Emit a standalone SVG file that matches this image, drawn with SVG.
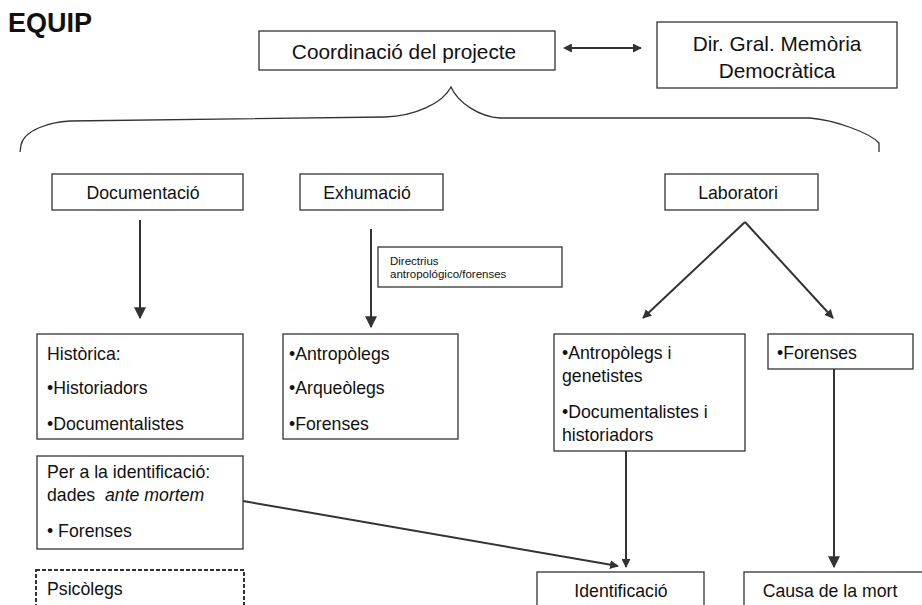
<svg xmlns="http://www.w3.org/2000/svg" width="922" height="605" viewBox="0 0 922 605">
<style>
text{font-family:"Liberation Sans",Arial,sans-serif;fill:#111;}
.box{fill:#fff;stroke:#333;stroke-width:1.3;}
.t20{font-size:20.8px;}
.t18{font-size:17.7px;}
.t11{font-size:11.5px;}
.c{text-anchor:middle;}
.ln{stroke:#333;stroke-width:2;fill:none;}
</style>
<defs>
<marker id="ah" viewBox="0 0 10 10" refX="9" refY="5" markerWidth="6" markerHeight="6" orient="auto" markerUnits="strokeWidth">
<path d="M0,0 L10,5 L0,10 z" fill="#333"/>
</marker>
<marker id="ah3" viewBox="0 0 10 10" refX="9" refY="5" markerWidth="4.5" markerHeight="4.5" orient="auto" markerUnits="strokeWidth">
<path d="M0,0 L10,5 L0,10 z" fill="#333"/>
</marker>
<marker id="ahs" viewBox="0 0 10 10" refX="1" refY="5" markerWidth="4.5" markerHeight="4.5" orient="auto-start-reverse" markerUnits="strokeWidth">
<path d="M0,0 L10,5 L0,10 z" fill="#333"/>
</marker>
</defs>
<rect width="922" height="605" fill="#fff"/>
<text id="title" x="8" y="32" style="font-size:27px;font-weight:bold;">EQUIP</text>

<g id="connectors">
<path d="M20,152 L21,145 C24,130 50,122 70,121 L385,117 C415,116 443,103 451,87 C458,103 480,117 500,118 L810,118 C835,120 870,133 879,143 L879,152" stroke="#333" stroke-width="1.3" fill="none"/>
<line x1="571" y1="48" x2="641" y2="48" class="ln" stroke-width="3" marker-start="url(#ahs)" marker-end="url(#ah3)"/>
<line x1="140" y1="220" x2="140" y2="318" class="ln" marker-end="url(#ah)"/>
<line x1="371" y1="229" x2="371" y2="327" class="ln" marker-end="url(#ah)"/>
<line x1="745" y1="222" x2="643" y2="318" class="ln" stroke-width="2.5" marker-end="url(#ah3)"/>
<line x1="745" y1="222" x2="833" y2="318" class="ln" stroke-width="2.5" marker-end="url(#ah3)"/>
<line x1="626" y1="451" x2="626" y2="567" class="ln" stroke-width="2.5" marker-end="url(#ah3)"/>
<line x1="834" y1="369" x2="834" y2="567" class="ln" marker-end="url(#ah)"/>
<line x1="243" y1="501" x2="618" y2="566" class="ln" stroke-width="3" marker-end="url(#ah3)"/>
</g>

<g id="coordinacio">
<rect class="box" x="259" y="31" width="296" height="39"/>
<text class="t20 c" x="404" y="59">Coordinació del projecte</text>
</g>
<g id="dirgral">
<rect class="box" x="657" y="22" width="240" height="66"/>
<text class="t20 c" x="777" y="51">Dir. Gral. Memòria</text>
<text class="t20 c" x="777" y="78">Democràtica</text>
</g>
<g id="documentacio">
<rect class="box" x="52" y="174" width="191" height="36"/>
<text class="t18 c" x="143" y="199">Documentació</text>
</g>
<g id="exhumacio">
<rect class="box" x="300" y="174" width="143" height="36"/>
<text class="t18 c" x="367" y="199">Exhumació</text>
</g>
<g id="laboratori">
<rect class="box" x="665" y="174" width="153" height="36"/>
<text class="t18 c" x="738" y="199">Laboratori</text>
</g>
<g id="directrius">
<rect class="box" x="378" y="247" width="184" height="40"/>
<text class="t11" x="390" y="265">Directrius</text>
<text class="t11" x="390" y="278">antropológico/forenses</text>
</g>
<g id="historica">
<rect class="box" x="37" y="334" width="206" height="105"/>
<text class="t18" x="47" y="360">Històrica:</text>
<text class="t18" x="47" y="394">•Historiadors</text>
<text class="t18" x="47" y="430">•Documentalistes</text>
</g>
<g id="exhumacio-equip">
<rect class="box" x="283" y="334" width="175" height="105"/>
<text class="t18" x="289" y="360">•Antropòlegs</text>
<text class="t18" x="289" y="394">•Arqueòlegs</text>
<text class="t18" x="289" y="430">•Forenses</text>
</g>
<g id="lab-equip">
<rect class="box" x="554" y="334" width="191" height="117"/>
<text class="t18" x="562" y="359">•Antropòlegs i</text>
<text class="t18" x="562" y="382">genetistes</text>
<text class="t18" x="562" y="418">•Documentalistes i</text>
<text class="t18" x="562" y="441">historiadors</text>
</g>
<g id="lab-forenses">
<rect class="box" x="768" y="334" width="145" height="35"/>
<text class="t18" x="777" y="359">•Forenses</text>
</g>
<g id="antemortem">
<rect class="box" x="37" y="456" width="206" height="93"/>
<text class="t18" x="47" y="478">Per a la identificació:</text>
<text class="t18" x="47" y="501">dades <tspan x="105" font-style="italic">ante mortem</tspan></text>
<text class="t18" x="47" y="537">• Forenses</text>
</g>
<g id="psicolegs">
<rect x="36" y="570" width="208" height="45" fill="#fff" stroke="#333" stroke-width="2" stroke-dasharray="4,2"/>
<text class="t18" x="47" y="595">Psicòlegs</text>
</g>
<g id="identificacio">
<rect class="box" x="537" y="572" width="167" height="45"/>
<text class="t18 c" x="621" y="597">Identificació</text>
</g>
<g id="causa">
<rect class="box" x="744" y="572" width="190" height="45"/>
<text class="t18 c" x="830" y="597">Causa de la mort</text>
</g>
</svg>
